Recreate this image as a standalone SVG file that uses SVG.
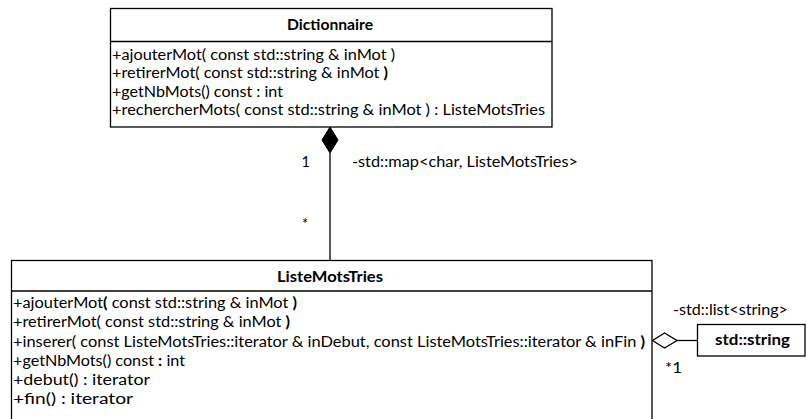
<svg xmlns="http://www.w3.org/2000/svg" width="807" height="419" viewBox="0 0 807 419">
<style>
text{font-family:Lato,"Liberation Sans",Arial,sans-serif;font-size:14.5px;fill:#000}
.b{font-weight:bold}
.box{fill:#fff;stroke:#000;stroke-width:1.3}
.ln{stroke:#000;stroke-width:1.3;fill:none}
</style>
<rect width="807" height="419" fill="#fff"/>
<g id="connectors">
<line class="ln" x1="330" y1="153" x2="330" y2="260"/>
<polygon points="330,127 338,140 330,153 322,140" fill="#000" stroke="#000" stroke-width="1"/>
<line class="ln" x1="677" y1="340.5" x2="697" y2="340.5"/>
<polygon points="652.5,340.5 664.5,333 677,340.5 664.5,348" fill="#fff" stroke="#000" stroke-width="1.3"/>
<text x="301.5" y="167">1</text>
<text x="352" y="167" textLength="226" lengthAdjust="spacingAndGlyphs">-std::map&lt;char, ListeMotsTries&gt;</text>
<text x="302" y="229">*</text>
<text x="673" y="315" textLength="115" lengthAdjust="spacingAndGlyphs">-std::list&lt;string&gt;</text>
<text x="665" y="373" textLength="17" lengthAdjust="spacingAndGlyphs">*1</text>
</g>
<g id="Dictionnaire">
<rect class="box" x="110.5" y="8.5" width="441.5" height="118.5"/>
<line class="ln" x1="110.5" y1="41.5" x2="552" y2="41.5"/>
<text class="b" x="287" y="30" textLength="86" lengthAdjust="spacingAndGlyphs">Dictionnaire</text>
<text x="112" y="59.5" textLength="283" lengthAdjust="spacingAndGlyphs">+ajouterMot( const std::string &amp; inMot )</text>
<text x="112" y="78" textLength="276" lengthAdjust="spacingAndGlyphs">+retirerMot( const std::string &amp; inMot <tspan class="b">)</tspan></text>
<text x="112" y="96.5" textLength="171" lengthAdjust="spacingAndGlyphs">+getNbMots() const : int</text>
<text x="112" y="115" textLength="433" lengthAdjust="spacingAndGlyphs">+rechercherMots( const std::string &amp; inMot ) : ListeMotsTries</text>
</g>
<g id="ListeMotsTries">
<rect class="box" x="11.5" y="260.5" width="640.5" height="170"/>
<line class="ln" x1="11.5" y1="291" x2="652" y2="291"/>
<text class="b" x="277" y="282" textLength="106" lengthAdjust="spacingAndGlyphs">ListeMotsTries</text>
<text x="13" y="308" textLength="284" lengthAdjust="spacingAndGlyphs">+ajouterMot<tspan class="b">(</tspan> const std::string &amp; inMot <tspan class="b">)</tspan></text>
<text x="13" y="327" textLength="277" lengthAdjust="spacingAndGlyphs">+retirerMot( const std::string &amp; inMot <tspan class="b">)</tspan></text>
<text x="13" y="346.5" textLength="632" lengthAdjust="spacingAndGlyphs">+inserer( const ListeMotsTries::iterator &amp; inDebut, const ListeMotsTries::iterator &amp; inFin <tspan class="b">)</tspan></text>
<text x="13" y="366" textLength="172" lengthAdjust="spacingAndGlyphs">+getNbMots() const <tspan class="b">:</tspan> int</text>
<text x="13" y="385" textLength="137" lengthAdjust="spacingAndGlyphs">+debut() : iterator</text>
<text x="13" y="404" textLength="120" lengthAdjust="spacingAndGlyphs">+fin() : iterator</text>
</g>
<g id="std_string">
<rect class="box" x="697.5" y="324.5" width="107.5" height="31.5"/>
<text class="b" x="715" y="345" textLength="75" lengthAdjust="spacingAndGlyphs">std::string</text>
</g>
</svg>
